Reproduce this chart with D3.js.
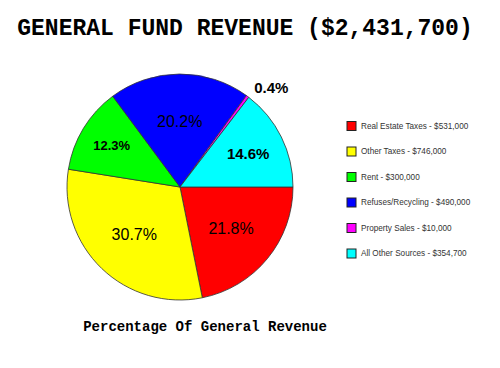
<!DOCTYPE html>
<html>
<head>
<script src="https://cdn.jsdelivr.net/npm/d3@7"></script>
<style>
  body { margin: 0; background: #fff; }
</style>
</head>
<body>
<svg width="500" height="368"></svg>
<script>
// data
var categories = ['Real Estate Taxes', 'Other Taxes', 'Rent', 'Refuses/Recycling', 'Property Sales', 'All Other Sources'];
var amounts = [531000, 746000, 300000, 490000, 10000, 354700];
var colors = ['#ff0000', '#ffff00', '#00ff00', '#0000ff', '#ff00ff', '#00ffff'];

// label look per slice (radius from centre, weight, size, anchor)
var labelR = [66, 66, 80, 66, 124, 76];
var labelBold = [false, false, true, false, true, true];
var labelSize = [16, 16, 13, 16, 15, 15];
var labelAnchor = ['middle', 'middle', 'middle', 'middle', 'start', 'middle'];

var svg = d3.select('svg');
var total = d3.sum(amounts);
var fmt = d3.format('$,');

svg.append('text')
  .attr('x', 245).attr('y', 35)
  .attr('text-anchor', 'middle')
  .style('font-family', '"Liberation Mono", "Courier New", monospace')
  .style('font-weight', 'bold')
  .style('font-size', '23px')
  .text('GENERAL FUND REVENUE (' + fmt(total) + ')');

var cx = 180, cy = 187, R = 113;

var pie = d3.pie().sort(null)
  .startAngle(Math.PI / 2).endAngle(Math.PI / 2 + 2 * Math.PI);
var arcs = pie(amounts);
var arc = d3.arc().innerRadius(0).outerRadius(R);

var g = svg.append('g').attr('transform', 'translate(' + cx + ',' + cy + ')');

g.selectAll('path')
  .data(arcs)
  .enter()
  .append('path')
  .attr('d', arc)
  .attr('fill', function(d, i) { return colors[i]; })
  .attr('stroke', '#333')
  .attr('stroke-width', 0.8);

g.selectAll('text')
  .data(arcs)
  .enter()
  .append('text')
  .attr('transform', function(d, i) {
    var a = (d.startAngle + d.endAngle) / 2;
    var r = labelR[i];
    return 'translate(' + (Math.sin(a) * r) + ',' + (-Math.cos(a) * r) + ')';
  })
  .attr('text-anchor', function(d, i) { return labelAnchor[i]; })
  .attr('dominant-baseline', 'central')
  .style('font-family', 'Arial, "Liberation Sans", sans-serif')
  .style('font-size', function(d, i) { return labelSize[i] + 'px'; })
  .style('font-weight', function(d, i) { return labelBold[i] ? 'bold' : 'normal'; })
  .text(function(d) { return (d.value / total * 100).toFixed(1) + '%'; });

// legend
var leg = svg.append('g');
var rows = leg.selectAll('g')
  .data(categories)
  .enter()
  .append('g')
  .attr('transform', function(d, i) { return 'translate(347,' + (121.5 + i * 25.5) + ')'; });

rows.append('rect')
  .attr('width', 9).attr('height', 9)
  .attr('fill', function(d, i) { return colors[i]; })
  .attr('stroke', '#222')
  .attr('stroke-width', 1);

rows.append('text')
  .attr('x', 14).attr('y', 4.5)
  .attr('dominant-baseline', 'central')
  .style('font-family', 'Arial, "Liberation Sans", sans-serif')
  .style('font-size', '8.2px')
  .style('fill', '#333')
  .text(function(d, i) { return d + ' - ' + fmt(amounts[i]); });

svg.append('text')
  .attr('x', 205).attr('y', 331)
  .attr('text-anchor', 'middle')
  .style('font-family', '"Liberation Mono", "Courier New", monospace')
  .style('font-weight', 'bold')
  .style('font-size', '14px')
  .text('Percentage Of General Revenue');
</script>
</body>
</html>
